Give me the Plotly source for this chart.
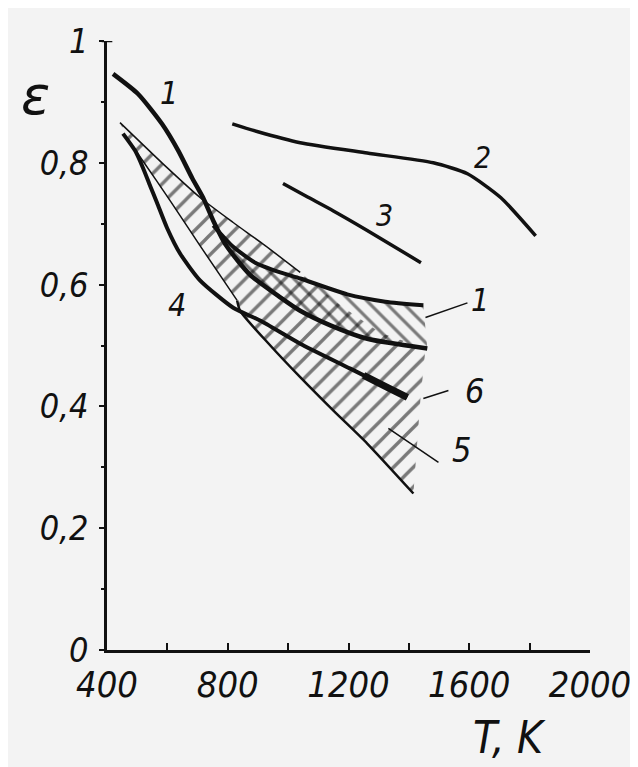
import plotly.graph_objects as go

# ---------------- data (T in K, emissivity eps) ----------------
c1_T = [420, 503, 582, 636, 682, 718, 752, 795, 874, 974, 1040, 1140, 1262, 1461]
c1_e = [0.946, 0.913, 0.864, 0.820, 0.775, 0.743, 0.705, 0.664, 0.616, 0.579, 0.557, 0.533, 0.511, 0.495]

c2_T = [815, 900, 1040, 1262, 1481, 1594, 1704, 1820]
c2_e = [0.864, 0.851, 0.833, 0.816, 0.800, 0.782, 0.743, 0.680]

c3_T = [983, 1060, 1150, 1262, 1440]
c3_e = [0.766, 0.745, 0.721, 0.689, 0.636]

c4_T = [453, 493, 519, 543, 566, 599, 642, 708, 818, 907, 1040, 1206, 1395]
c4_e = [0.848, 0.820, 0.792, 0.762, 0.734, 0.693, 0.651, 0.607, 0.562, 0.541, 0.503, 0.462, 0.415]

c6_T = [1250, 1330, 1395]
c6_e = [0.451, 0.431, 0.415]

b1u_T = [752, 818, 891, 974, 1040, 1196, 1322, 1448]
b1u_e = [0.697, 0.662, 0.636, 0.620, 0.610, 0.584, 0.572, 0.566]

b5low_T = [831, 841, 941, 1040, 1150, 1262, 1415]
b5low_e = [0.574, 0.557, 0.500, 0.448, 0.393, 0.339, 0.257]

ladU_T = [443, 599, 708, 818, 924, 1040]
ladU_e = [0.866, 0.792, 0.743, 0.702, 0.664, 0.620]
ladL_T = [466, 519, 609, 708, 831]
ladL_e = [0.841, 0.803, 0.738, 0.664, 0.574]

b5top_T = [1173, 1305, 1455]
b5top_e = [0.566, 0.521, 0.495]
b5right_T = [1438]
b5right_e = [0.410]

x_ticks = [400, 800, 1200, 1600, 2000]
x_ticktext = ["400", "800", "1200", "1600", "2000"]
y_ticks = [0, 0.2, 0.4, 0.6, 0.8, 1.0]
y_ticktext = ["0", "0,2", "0,4", "0,6", "0,8", "1"]

# ---------------- figure ----------------
INK = "#111111"
HAND = "Liberation Sans Narrow, DejaVu Sans Condensed, Liberation Sans, DejaVu Sans"

fig = go.Figure()

# region 5 (hatched "/")
r5_T = ladU_T + b5top_T + b5right_T + b5low_T[::-1] + ladL_T[:-1][::-1]
r5_e = ladU_e + b5top_e + b5right_e + b5low_e[::-1] + ladL_e[:-1][::-1]
fig.add_trace(go.Scatter(
    x=r5_T, y=r5_e, mode="lines", fill="toself", line=dict(width=0),
    fillcolor="rgba(0,0,0,0)",
    fillpattern=dict(shape="/", size=14, solidity=0.24, fgcolor="#000000",
                     bgcolor="rgba(0,0,0,0)", fillmode="overlay"),
    hoverinfo="skip", showlegend=False))

# region 1 (hatched "\")
tail = [(t, e) for t, e in zip(c1_T, c1_e) if t >= 795]
r1_T = b1u_T + [t for t, _ in tail][::-1]
r1_e = b1u_e + [e for _, e in tail][::-1]
fig.add_trace(go.Scatter(
    x=r1_T, y=r1_e, mode="lines", fill="toself", line=dict(width=0),
    fillcolor="rgba(0,0,0,0)",
    fillpattern=dict(shape="\\", size=12, solidity=0.26, fgcolor="#000000",
                     bgcolor="rgba(0,0,0,0)", fillmode="overlay"),
    hoverinfo="skip", showlegend=False))

def line(x, y, w):
    fig.add_trace(go.Scatter(x=x, y=y, mode="lines",
                             line=dict(color=INK, width=w, shape="spline", smoothing=0.6),
                             hoverinfo="skip", showlegend=False))

line(ladU_T, ladU_e, 1.5)
line(ladL_T, ladL_e, 1.5)
line(b5low_T, b5low_e, 2.5)
line(c1_T, c1_e, 4.5)
line(c2_T, c2_e, 3.5)
line(c3_T, c3_e, 3.5)
line(c4_T, c4_e, 4)
line(c6_T, c6_e, 7)
line(b1u_T, b1u_e, 4)

# leader lines
leaders = [((1455, 0.546), (1594, 0.570)),
           ((1448, 0.413), (1531, 0.426)),
           ((1332, 0.364), (1498, 0.308))]
for (x0, y0), (x1, y1) in leaders:
    fig.add_shape(type="line", x0=x0, y0=y0, x1=x1, y1=y1, xref="x", yref="y",
                  line=dict(color=INK, width=1.5))

# curve labels
labels = [("1", 605, 0.915, 32), ("1", 1637, 0.574, 32), ("2", 1644, 0.808, 30),
          ("3", 1319, 0.713, 30), ("4", 632, 0.566, 32), ("6", 1617, 0.426, 34),
          ("5", 1574, 0.328, 34)]
for txt, x, y, s in labels:
    fig.add_annotation(x=x, y=y, text=txt, showarrow=False, xref="x", yref="y",
                       font=dict(family=HAND, size=s, color=INK, style="italic"))

fig.add_annotation(x=-0.149, y=0.91, xref="paper", yref="paper", text="ε", showarrow=False,
                   xanchor="center", yanchor="middle",
                   font=dict(family="DejaVu Sans", size=54, color=INK, style="italic"))
fig.add_annotation(x=0.834, y=-0.144, xref="paper", yref="paper", text="T, K", showarrow=False,
                   xanchor="center", yanchor="middle",
                   font=dict(family=HAND, size=44, color=INK, style="italic"))

# cap at top of the y axis
fig.add_shape(type="line", xref="paper", yref="y", x0=-0.011, x1=0.011, y0=1.0, y1=1.0,
              line=dict(color=INK, width=2.5))

fig.update_xaxes(range=[400, 2000], showline=True, linecolor=INK, linewidth=2.5,
                 showgrid=False, zeroline=False, tickvals=x_ticks, ticktext=x_ticktext,
                 ticks="inside", ticklen=7, tickwidth=1.5, tickcolor=INK,
                 minor=dict(dtick=200, tick0=400, ticks="inside", ticklen=7, tickwidth=1.5,
                            tickcolor=INK, showgrid=False),
                 tickfont=dict(family=HAND, size=36, color=INK, style="italic"),
                 ticklabelstandoff=1)
fig.update_yaxes(range=[0, 1.0], showline=True, linecolor=INK, linewidth=2.5,
                 showgrid=False, zeroline=False, tickvals=y_ticks, ticktext=y_ticktext,
                 ticks="outside", ticklen=5, tickwidth=2, tickcolor=INK,
                 minor=dict(dtick=0.1, tick0=0, ticks="outside", ticklen=3, tickwidth=2,
                            tickcolor=INK, showgrid=False),
                 tickfont=dict(family=HAND, size=34, color=INK, style="italic"),
                 ticklabelstandoff=4)

fig.update_layout(width=638, height=767, margin=dict(l=99, r=56, t=33, b=125),
                  paper_bgcolor="#f3f3f3", plot_bgcolor="#f3f3f3", showlegend=False)

fig.write_html("out.html")
